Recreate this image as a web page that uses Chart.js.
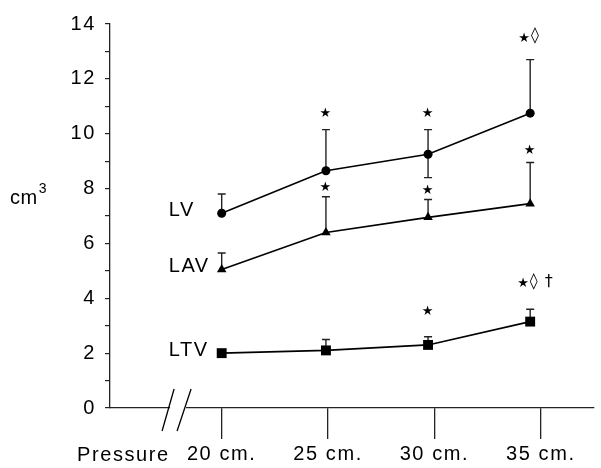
<!DOCTYPE html>
<html lang="en">
<head>
<meta charset="UTF-8">
<title>Lung volumes vs pressure</title>
<script src="https://cdn.jsdelivr.net/npm/chart.js"></script>
<style>
    html, body { margin: 0; padding: 0; background: white; }
</style>
</head>
<body>
<canvas id="volChart" width="601" height="468"></canvas>
<script>
// pressure (cm) at which each point sits
var pressure = [20, 24.9, 29.7, 34.5];
var xTicks = [20, 25, 30, 35];
var xTickLabels = ['20 cm.', '25 cm.', '30 cm.', '35 cm.'];

// volumes in cm3, with error bar ends
var lv = [7.1, 8.65, 9.25, 10.75];
var lvHi = [7.8, 10.15, 10.15, 12.7];
var lvLo = [null, null, 8.4, null];
var lav = [5.05, 6.4, 6.95, 7.45];
var lavHi = [5.65, 7.7, 7.6, 8.95];
var lavLo = [null, null, null, null];
var ltv = [2.0, 2.1, 2.3, 3.15];
var ltvHi = [null, 2.5, 2.6, 3.6];
var ltvLo = [null, null, null, null];
var seriesNames = ['LV', 'LAV', 'LTV'];

// significance marks (text, pressure, volume)
var markText = ['\u2605', '\u2605', '\u2605\u25CA', '\u2605', '\u2605', '\u2605', '\u2605', '\u2605\u25CA \u2020'];
var markX = [24.9, 29.7, 34.45, 24.9, 29.7, 34.5, 29.7, 34.75];
var markY = [10.8, 10.8, 13.55, 8.1, 8.0, 9.45, 3.6, 4.6];

var FONT = 'Liberation Sans, Arial, sans-serif';
var INK = '#000';

function pts(ys) {
    return ys.map(function (y, i) { return { x: pressure[i], y: y }; });
}

var spacing = {
    id: 'spacing',
    beforeLayout: function (chart) { chart.ctx.letterSpacing = '1.6px'; },
    beforeDraw: function (chart) { chart.ctx.letterSpacing = '1.6px'; }
};

var errorBars = {
    id: 'errorBars',
    beforeDatasetsDraw: function (chart) {
        var c = chart.ctx, xs = chart.scales.x, ys = chart.scales.y;
        c.save();
        c.strokeStyle = '#222';
        c.lineWidth = 1.4;
        chart.data.datasets.forEach(function (ds) {
            ds.data.forEach(function (p, i) {
                [ds.errHi[i], ds.errLo[i]].forEach(function (end) {
                    if (end === null) return;
                    var px = xs.getPixelForValue(p.x);
                    var py = ys.getPixelForValue(p.y);
                    var ey = ys.getPixelForValue(end);
                    c.beginPath();
                    c.moveTo(px, py);
                    c.lineTo(px, ey);
                    c.moveTo(px - 4, ey);
                    c.lineTo(px + 4, ey);
                    c.stroke();
                });
            });
        });
        c.restore();
    }
};

// draws a mark string: the star glyph smaller than the others
function drawMark(c, text, cx, cy) {
    var parts = text.split('').map(function (ch) {
        var star = ch === '\u2605';
        c.font = (star ? '13px DejaVu Sans' : '16px DejaVu Sans');
        return { ch: ch, star: star, w: c.measureText(ch).width };
    });
    var total = parts.reduce(function (s, p) { return s + p.w; }, 0);
    var x = cx - total / 2;
    parts.forEach(function (p) {
        c.font = (p.star ? '13px DejaVu Sans' : '16px DejaVu Sans');
        c.fillText(p.ch, x, p.star ? cy + 2 : cy);
        x += p.w;
    });
}

var decorations = {
    id: 'decorations',
    afterDraw: function (chart) {
        var c = chart.ctx, xs = chart.scales.x, ys = chart.scales.y;
        var area = chart.chartArea;
        c.save();
        c.fillStyle = INK;
        c.letterSpacing = '1.6px';
        c.font = '20px ' + FONT;
        c.textBaseline = 'middle';
        c.textAlign = 'left';

        // series names, left of the first point
        chart.data.datasets.forEach(function (ds) {
            var p = ds.data[0];
            c.fillText(ds.label, xs.getPixelForValue(p.x) - 53, ys.getPixelForValue(p.y) - 3);
        });

        // y axis unit
        c.letterSpacing = '0.5px';
        c.fillText('cm', 10, 198);
        var w = c.measureText('cm').width;
        c.font = '14px ' + FONT;
        c.letterSpacing = '0px';
        c.fillText('3', 10 + w + 1, 189);

        // x axis name
        c.font = '20px ' + FONT;
        c.letterSpacing = '1.6px';
        c.textBaseline = 'alphabetic';
        c.fillText('Pressure', 77, 461);

        // axis break
        var bx = xs.getPixelForValue(17.95);
        var by = area.bottom;
        c.fillStyle = 'white';
        c.fillRect(bx - 8, by - 2, 16, 4);
        c.strokeStyle = INK;
        c.lineWidth = 1.3;
        c.beginPath();
        c.moveTo(bx - 16, by + 23);
        c.lineTo(bx - 4, by - 19);
        c.moveTo(bx - 1, by + 23);
        c.lineTo(bx + 13, by - 19);
        c.stroke();

        // significance marks
        c.fillStyle = INK;
        c.letterSpacing = '1px';
        c.textAlign = 'left';
        c.textBaseline = 'middle';
        markText.forEach(function (t, i) {
            drawMark(c, t, xs.getPixelForValue(markX[i]), ys.getPixelForValue(markY[i]));
        });
        c.restore();
    }
};

var lineStyle = {
    borderColor: INK,
    borderWidth: 1.6,
    pointBackgroundColor: INK,
    pointBorderWidth: 0,
    tension: 0
};

var ctx = document.getElementById('volChart').getContext('2d');
var volChart = new Chart(ctx, {
    type: 'line',
    data: {
        datasets: [
            Object.assign({ label: seriesNames[0], data: pts(lv), errHi: lvHi, errLo: lvLo,
                pointStyle: 'circle', pointRadius: 4.5 }, lineStyle),
            Object.assign({ label: seriesNames[1], data: pts(lav), errHi: lavHi, errLo: lavLo,
                pointStyle: 'triangle', pointRadius: 5.5 }, lineStyle),
            Object.assign({ label: seriesNames[2], data: pts(ltv), errHi: ltvHi, errLo: ltvLo,
                pointStyle: 'rect', pointRadius: 7 }, lineStyle)
        ]
    },
    options: {
        responsive: false,
        animation: false,
        layout: { padding: { top: 24, right: 1, left: 0, bottom: 0 } },
        plugins: {
            legend: { display: false },
            tooltip: { enabled: false }
        },
        scales: {
            x: {
                type: 'linear',
                min: 14.75,
                max: 37.5,
                border: { color: '#222', width: 1.3 },
                grid: { drawOnChartArea: false, tickLength: 31, color: '#222', lineWidth: 1.3 },
                ticks: {
                    color: INK,
                    padding: 3,
                    maxRotation: 0,
                    font: { family: FONT, size: 20 },
                    callback: function (value) {
                        var i = xTicks.indexOf(value);
                        return i < 0 ? '' : xTickLabels[i];
                    }
                },
                afterBuildTicks: function (scale) {
                    scale.ticks = xTicks.map(function (v) { return { value: v }; });
                },
                afterFit: function (scale) { scale.height = 60; }
            },
            y: {
                min: 0,
                max: 14,
                border: { color: '#222', width: 1.3 },
                grid: { drawOnChartArea: false, tickLength: 5, color: '#222', lineWidth: 1.2 },
                ticks: {
                    stepSize: 1,
                    autoSkip: false,
                    color: INK,
                    padding: 9,
                    font: { family: FONT, size: 20 },
                    callback: function (value) {
                        return value % 2 === 0 ? String(value) : '';
                    }
                },
                afterFit: function (scale) { scale.width = 110; }
            }
        }
    },
    plugins: [spacing, errorBars, decorations]
});
</script>
</body>
</html>
